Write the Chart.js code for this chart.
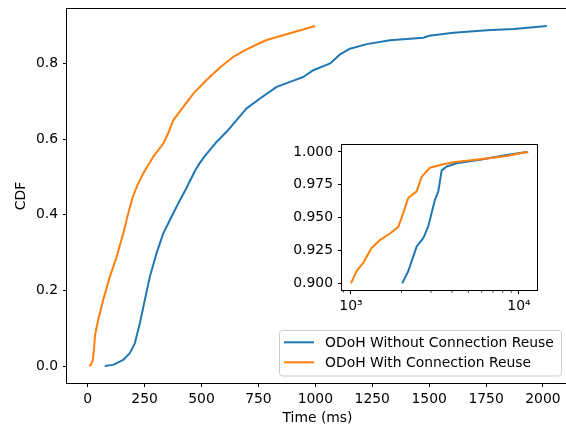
<!DOCTYPE html>
<html><head><meta charset="utf-8">
<script src="https://cdn.jsdelivr.net/npm/chart.js@4.4.0/dist/chart.umd.min.js"></script>
<style>
html,body{margin:0;padding:0;background:#fff;}
#wrap{position:relative;width:566px;height:427px;overflow:hidden;background:#fff;}
#main{position:absolute;left:0;top:0;}
#inset{position:absolute;left:280px;top:135px;}
</style></head><body>
<div id="wrap"><canvas id="main" width="572" height="427"></canvas><canvas id="inset" width="270" height="185"></canvas></div>
<script>
// ---- data ----
const seriesLabels = ['ODoH Without Connection Reuse', 'ODoH With Connection Reuse'];
const seriesColors = ['#1f77b4', '#ff7f0e'];

// main plot: time (ms) vs CDF (0 .. 0.9)
const mainBlueX = [75, 112, 156, 185, 207, 229, 251, 273, 302, 332, 368, 405, 431, 471, 492, 515, 566, 610, 654, 698, 757, 830, 889, 947, 991, 1065, 1109, 1152, 1226, 1328, 1475, 1500, 1607, 1754, 1871, 2017];
const mainBlueY = [0, 0.003, 0.016, 0.034, 0.06, 0.113, 0.175, 0.236, 0.298, 0.351, 0.395, 0.439, 0.468, 0.516, 0.537, 0.556, 0.593, 0.620, 0.651, 0.682, 0.708, 0.739, 0.752, 0.765, 0.783, 0.801, 0.825, 0.840, 0.852, 0.862, 0.869, 0.874, 0.882, 0.889, 0.892, 0.9];
const mainOrangeX = [6, 14, 22, 27, 32, 38, 46, 68, 97, 127, 156, 178, 197, 218, 244, 288, 332, 352, 376, 420, 464, 522, 581, 639, 698, 757, 786, 889, 999];
const mainOrangeY = [0, 0.003, 0.015, 0.04, 0.08, 0.1, 0.122, 0.175, 0.236, 0.289, 0.351, 0.404, 0.446, 0.478, 0.510, 0.554, 0.589, 0.614, 0.651, 0.686, 0.721, 0.757, 0.790, 0.818, 0.838, 0.855, 0.863, 0.881, 0.9];

// inset: log time (ms) vs CDF tail (0.9 .. 1.0)
const insetBlueX = [2018, 2193, 2460, 2700, 2885, 3162, 3311, 3467, 3715, 4257, 5861, 8453, 11120];
const insetBlueY = [0.9, 0.9093, 0.928, 0.9346, 0.9434, 0.9636, 0.970, 0.986, 0.989, 0.9914, 0.994, 0.9977, 1.0];
const insetOrangeX = [1000, 1081, 1184, 1327, 1488, 1707, 1914, 2048, 2193, 2460, 2635, 2951, 3540, 4065, 5861, 8453, 10140, 11350];
const insetOrangeY = [0.9, 0.9093, 0.9157, 0.927, 0.933, 0.938, 0.943, 0.9535, 0.965, 0.970, 0.981, 0.988, 0.9907, 0.9922, 0.9945, 0.997, 0.999, 1.0];

// ticks
const mainXTicks = [0, 250, 500, 750, 1000, 1250, 1500, 1750, 2000];
const mainYTicks = [0, 0.2, 0.4, 0.6, 0.8];
const insetXTicks = [1000, 10000];
const insetXTickLabels = ['10³', '10⁴'];
const insetXMinorTicks = [900, 2000, 3000, 4000, 5000, 6000, 7000, 8000, 9000];
const insetYTicks = [0.9, 0.925, 0.95, 0.975, 1.0];

// ---- helpers ----
const FONT = 'DejaVu Sans';
const FS = 13.9;
Chart.defaults.color = '#000';
Chart.defaults.font.family = FONT;
Chart.defaults.font.size = FS;

const pts = (xs, ys) => xs.map((x, i) => ({x: x, y: ys[i]}));
function lineDs(i, xs, ys) {
  return {label: seriesLabels[i], data: pts(xs, ys), borderColor: seriesColors[i], backgroundColor: seriesColors[i],
    borderWidth: 2, pointRadius: 0, tension: 0, fill: false, borderJoinStyle: 'round', order: i === 0 ? 1 : 0};
}
function axisCommon() {
  return {
    grid: {display: true, drawOnChartArea: false, drawTicks: true, tickLength: 4, tickColor: '#000', tickWidth: 1},
    border: {display: false},
  };
}
function noPad(s) { s.paddingTop = 0; s.paddingBottom = 0; s.paddingLeft = 0; s.paddingRight = 0; }
const boxPlugin = {
  id: 'box',
  beforeDraw(chart, args, opts) {
    if (opts.fill) {
      const a = chart.chartArea, c = chart.ctx;
      c.save(); c.fillStyle = '#fff'; c.fillRect(a.left, a.top, a.right - a.left, a.bottom - a.top); c.restore();
    }
  },
  afterDatasetsDraw(chart) {
    const a = chart.chartArea, c = chart.ctx;
    c.save(); c.strokeStyle = '#000'; c.lineWidth = 1;
    c.strokeRect(Math.round(a.left) - 0.5, Math.round(a.top) - 0.5, Math.round(a.right - a.left) + 1, Math.round(a.bottom - a.top) + 1);
    c.restore();
  }
};

// ---- main chart ----
const legendPlugin = {
  id: 'mplLegend',
  afterDraw(chart) {
    const c = chart.ctx;
    c.save();
    const bx = 279.5, by = 330.5, bw = 282, bh = 45.5;
    c.beginPath();
    c.roundRect(bx, by, bw, bh, 3);
    c.fillStyle = 'rgba(255,255,255,0.8)';
    c.fill();
    c.strokeStyle = '#cccccc'; c.lineWidth = 1; c.stroke();
    chart.data.datasets.forEach((ds, i) => {
      const y = 342.3 + i * 20;
      c.beginPath(); c.moveTo(284, y); c.lineTo(314, y);
      c.strokeStyle = ds.borderColor; c.lineWidth = 2; c.stroke();
      c.fillStyle = '#000'; c.font = FS + 'px "' + FONT + '"';
      c.textBaseline = 'middle'; c.textAlign = 'left';
      c.fillText(ds.label, 325, y + 1);
    });
    c.restore();
  }
};

new Chart(document.getElementById('main'), {
  type: 'line',
  data: {datasets: [lineDs(0, mainBlueX, mainBlueY), lineDs(1, mainOrangeX, mainOrangeY)]},
  options: {
    responsive: false, animation: false, devicePixelRatio: 1,
    layout: {padding: {left: 0, top: 9, right: 4, bottom: 0}},
    plugins: {legend: {display: false}, tooltip: {enabled: false}, box: {fill: false}},
    scales: {
      x: Object.assign(axisCommon(), {
        type: 'linear', min: -91, max: 2110,
        afterBuildTicks: s => { s.ticks = mainXTicks.map(v => ({value: v})); },
        afterFit: s => { s.height = 44; noPad(s); },
        ticks: {padding: 4, callback: v => String(v), maxRotation: 0},
        title: {display: true, text: 'Time (ms)', padding: {top: 0, bottom: 0}, font: {size: FS}}
      }),
      y: Object.assign(axisCommon(), {
        type: 'linear', min: -0.045, max: 0.945,
        afterBuildTicks: s => { s.ticks = mainYTicks.map(v => ({value: v})); },
        afterFit: s => { s.width = 67; noPad(s); },
        ticks: {padding: 5, callback: v => Number(v).toFixed(1)},
        title: {display: true, text: 'CDF', padding: {top: 13, bottom: 0}, font: {size: FS}}
      })
    }
  },
  plugins: [boxPlugin, legendPlugin]
});

// ---- inset chart ----
const minorTickPlugin = {
  id: 'minorTicks',
  afterDatasetsDraw(chart) {
    const s = chart.scales.x, c = chart.ctx, b = Math.round(chart.chartArea.bottom) + 0.5;
    c.save(); c.strokeStyle = '#000'; c.lineWidth = 0.8;
    insetXMinorTicks.forEach(v => {
      const px = s.getPixelForValue(v);
      if (px < chart.chartArea.left - 0.5 || px > chart.chartArea.right + 0.5) return;
      c.beginPath(); c.moveTo(px, b); c.lineTo(px, b + 2.2); c.stroke();
    });
    c.restore();
  }
};

new Chart(document.getElementById('inset'), {
  type: 'line',
  data: {datasets: [lineDs(0, insetBlueX, insetBlueY), lineDs(1, insetOrangeX, insetOrangeY)]},
  options: {
    responsive: false, animation: false, devicePixelRatio: 1,
    layout: {padding: {left: 0, top: 10, right: 13, bottom: 0}},
    plugins: {legend: {display: false}, tooltip: {enabled: false}, box: {fill: true}},
    scales: {
      x: Object.assign(axisCommon(), {
        type: 'logarithmic', min: 885, max: 12800,
        afterBuildTicks: s => { s.ticks = insetXTicks.map(v => ({value: v, major: true})); },
        afterFit: s => { s.height = 30; noPad(s); },
        ticks: {padding: 4, maxRotation: 0, autoSkip: false,
          callback: v => { const i = insetXTicks.indexOf(Number(v)); return i >= 0 ? insetXTickLabels[i] : ''; }}
      }),
      y: Object.assign(axisCommon(), {
        type: 'linear', min: 0.895, max: 1.0053,
        afterBuildTicks: s => { s.ticks = insetYTicks.map(v => ({value: v})); },
        afterFit: s => { s.width = 62; noPad(s); },
        ticks: {padding: 5, callback: v => Number(v).toFixed(3)}
      })
    }
  },
  plugins: [boxPlugin, minorTickPlugin]
});
</script>
</body></html>
